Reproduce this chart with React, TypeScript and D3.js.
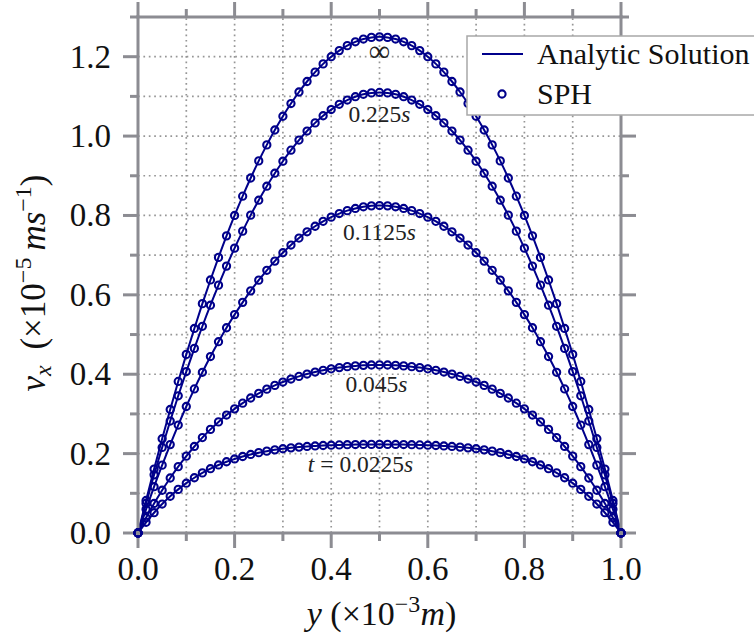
import React from 'react';
import * as d3 from 'd3';

// y positions (×10^-3 m) of the particles / sample points
const positions = [0, 0.0167, 0.0333, 0.05, 0.0667, 0.0833, 0.1, 0.1167, 0.1333, 0.15, 0.1667, 0.1833, 0.2, 0.2167, 0.2333, 0.25, 0.2667, 0.2833, 0.3, 0.3167, 0.3333, 0.35, 0.3667, 0.3833, 0.4, 0.4167, 0.4333, 0.45, 0.4667, 0.4833, 0.5, 0.5167, 0.5333, 0.55, 0.5667, 0.5833, 0.6, 0.6167, 0.6333, 0.65, 0.6667, 0.6833, 0.7, 0.7167, 0.7333, 0.75, 0.7667, 0.7833, 0.8, 0.8167, 0.8333, 0.85, 0.8667, 0.8833, 0.9, 0.9167, 0.9333, 0.95, 0.9667, 0.9833, 1];

// velocity profiles (×10^-5 m/s)
const vInf = [0, 0.0819, 0.1611, 0.2375, 0.3111, 0.3819, 0.45, 0.5153, 0.5778, 0.6375, 0.6944, 0.7486, 0.8, 0.8486, 0.8944, 0.9375, 0.9778, 1.0153, 1.05, 1.0819, 1.1111, 1.1375, 1.1611, 1.1819, 1.2, 1.2153, 1.2278, 1.2375, 1.2444, 1.2486, 1.25, 1.2486, 1.2444, 1.2375, 1.2278, 1.2153, 1.2, 1.1819, 1.1611, 1.1375, 1.1111, 1.0819, 1.05, 1.0153, 0.9778, 0.9375, 0.8944, 0.8486, 0.8, 0.7486, 0.6944, 0.6375, 0.5778, 0.5153, 0.45, 0.3819, 0.3111, 0.2375, 0.1611, 0.0819, 0];
const v0225 = [0, 0.0746, 0.1465, 0.2156, 0.282, 0.3457, 0.4067, 0.4651, 0.5208, 0.5739, 0.6244, 0.6724, 0.7177, 0.7605, 0.8008, 0.8385, 0.8737, 0.9065, 0.9367, 0.9645, 0.9899, 1.0127, 1.0332, 1.0512, 1.0668, 1.08, 1.0908, 1.0992, 1.1052, 1.1088, 1.11, 1.1088, 1.1052, 1.0992, 1.0908, 1.08, 1.0668, 1.0512, 1.0332, 1.0127, 0.9899, 0.9645, 0.9367, 0.9065, 0.8737, 0.8385, 0.8008, 0.7605, 0.7177, 0.6724, 0.6244, 0.5739, 0.5208, 0.4651, 0.4067, 0.3457, 0.282, 0.2156, 0.1465, 0.0746, 0];
const v01125 = [0, 0.0597, 0.1167, 0.171, 0.2227, 0.2719, 0.3187, 0.363, 0.4049, 0.4446, 0.4819, 0.5171, 0.5502, 0.5811, 0.6101, 0.637, 0.6619, 0.685, 0.7062, 0.7255, 0.743, 0.7588, 0.7728, 0.7852, 0.7958, 0.8048, 0.8121, 0.8177, 0.8218, 0.8242, 0.825, 0.8242, 0.8218, 0.8177, 0.8121, 0.8048, 0.7958, 0.7852, 0.7728, 0.7588, 0.743, 0.7255, 0.7062, 0.685, 0.6619, 0.637, 0.6101, 0.5811, 0.5502, 0.5171, 0.4819, 0.4446, 0.4049, 0.363, 0.3187, 0.2719, 0.2227, 0.171, 0.1167, 0.0597, 0];
const v0045 = [0, 0.0385, 0.0744, 0.1077, 0.1386, 0.1672, 0.1936, 0.218, 0.2404, 0.261, 0.2799, 0.2971, 0.3128, 0.3271, 0.3401, 0.3518, 0.3624, 0.3719, 0.3803, 0.3879, 0.3945, 0.4004, 0.4055, 0.4099, 0.4136, 0.4167, 0.4191, 0.421, 0.4224, 0.4232, 0.4235, 0.4232, 0.4224, 0.421, 0.4191, 0.4167, 0.4136, 0.4099, 0.4055, 0.4004, 0.3945, 0.3879, 0.3803, 0.3719, 0.3624, 0.3518, 0.3401, 0.3271, 0.3128, 0.2971, 0.2799, 0.261, 0.2404, 0.218, 0.1936, 0.1672, 0.1386, 0.1077, 0.0744, 0.0385, 0];
const v00225 = [0, 0.0269, 0.0511, 0.0729, 0.0925, 0.1099, 0.1255, 0.1392, 0.1514, 0.162, 0.1714, 0.1795, 0.1866, 0.1927, 0.1979, 0.2024, 0.2062, 0.2095, 0.2122, 0.2145, 0.2164, 0.218, 0.2193, 0.2204, 0.2212, 0.2219, 0.2224, 0.2228, 0.2231, 0.2232, 0.2233, 0.2232, 0.2231, 0.2228, 0.2224, 0.2219, 0.2212, 0.2204, 0.2193, 0.218, 0.2164, 0.2145, 0.2122, 0.2095, 0.2062, 0.2024, 0.1979, 0.1927, 0.1866, 0.1795, 0.1714, 0.162, 0.1514, 0.1392, 0.1255, 0.1099, 0.0925, 0.0729, 0.0511, 0.0269, 0];

const timeLabels = ['\u221e', '0.225', '0.1125', '0.045', '0.0225'];
const xMajorTicks = [0, 0.2, 0.4, 0.6, 0.8, 1.0];
const xMinorTicks = [0.1, 0.3, 0.5, 0.7, 0.9];
const yMajorTicks = [0, 0.2, 0.4, 0.6, 0.8, 1.0, 1.2];
const yMinorTicks = [0.1, 0.3, 0.5, 0.7, 0.9, 1.1, 1.3];
const xTickLabels = ['0.0', '0.2', '0.4', '0.6', '0.8', '1.0'];
const yTickLabels = ['0.0', '0.2', '0.4', '0.6', '0.8', '1.0', '1.2'];
const legendLabels = ['Analytic Solution', 'SPH'];

const BLUE = '#00008b';
const GRAY = '#8c8c92';
const FONT = '"Liberation Serif", "Times New Roman", serif';

export default function App() {
  const x = d3.scaleLinear().domain([0, 1]).range([138, 621]);
  const y = d3.scaleLinear().domain([0, 1.3]).range([533, 17]);
  const series = [vInf, v0225, v01125, v0045, v00225];
  const line = d3
    .line<number>()
    .x((_, i) => x(positions[i]))
    .y((d) => y(d))
    .curve(d3.curveMonotoneX);

  const allX = [...xMajorTicks, ...xMinorTicks];
  const allY = [...yMajorTicks, ...yMinorTicks];
  const [x0, x1] = x.range();
  const [y0, y1] = y.range();
  const MAJ = 15;
  const MIN = 8;

  const peaks = series.map((s) => d3.max(s) as number);
  const annOffsets = [24, 30, 34, 27, 28];
  const annDx = [0, 0, 0, -3, -19];

  return (
    <svg
      width={754}
      height={639}
      style={{ position: 'absolute', left: 0, top: 0, background: '#fff' }}
      fontFamily={FONT}
    >
      <rect x={0} y={0} width={754} height={639} fill="#fff" />
      {/* grid */}
      <g stroke="#969696" strokeWidth={1.7} strokeDasharray="1.7 3.7">
        {allX.filter((t) => t > 0 && t < 1).map((t) => (
          <line key={'gx' + t} x1={x(t)} x2={x(t)} y1={y0} y2={y1} />
        ))}
        {allY.filter((t) => t > 0 && t < 1.3).map((t) => (
          <line key={'gy' + t} x1={x0} x2={x1} y1={y(t)} y2={y(t)} />
        ))}
      </g>

      {/* curves */}
      <g fill="none" stroke={BLUE} strokeWidth={2}>
        {series.map((s, i) => (
          <path key={'l' + i} d={line(s) as string} />
        ))}
      </g>

      {/* spines */}
      <g stroke={GRAY} strokeWidth={3} strokeLinecap="butt">
        <line x1={x0} x2={x0} y1={y0 + 1.5} y2={y1 - 1.5} />
        <line x1={x1} x2={x1} y1={y0 + 1.5} y2={y1 - 1.5} />
        <line x1={x0 - 1.5} x2={x1 + 1.5} y1={y0} y2={y0} />
        <line x1={x0 - 1.5} x2={x1 + 1.5} y1={y1} y2={y1} />
        {xMajorTicks.map((t) => (
          <g key={'xM' + t}>
            <line x1={x(t)} x2={x(t)} y1={y0} y2={y0 + MAJ} />
            <line x1={x(t)} x2={x(t)} y1={y1} y2={y1 - MAJ} />
          </g>
        ))}
        {xMinorTicks.map((t) => (
          <g key={'xm' + t}>
            <line x1={x(t)} x2={x(t)} y1={y0} y2={y0 + MIN} />
            <line x1={x(t)} x2={x(t)} y1={y1} y2={y1 - MIN} />
          </g>
        ))}
        {yMajorTicks.map((t) => (
          <g key={'yM' + t}>
            <line x1={x0} x2={x0 - MAJ} y1={y(t)} y2={y(t)} />
            <line x1={x1} x2={x1 + MAJ} y1={y(t)} y2={y(t)} />
          </g>
        ))}
        {yMinorTicks.map((t) => (
          <g key={'ym' + t}>
            <line x1={x0} x2={x0 - MIN} y1={y(t)} y2={y(t)} />
            <line x1={x1} x2={x1 + MIN} y1={y(t)} y2={y(t)} />
          </g>
        ))}
      </g>

      {/* SPH markers */}
      <g fill="none" stroke={BLUE} strokeWidth={2.1}>
        {series.map((s, i) =>
          s.map((v, j) => (
            <circle key={'c' + i + '-' + j} cx={x(positions[j])} cy={y(v)} r={3.6} />
          ))
        )}
      </g>

      {/* tick labels */}
      <g fontSize={33} fill="#111">
        {xMajorTicks.map((t, i) => (
          <text key={'xl' + t} x={x(t)} y={y0 + 47} textAnchor="middle">
            {xTickLabels[i]}
          </text>
        ))}
        {yMajorTicks.map((t, i) => (
          <text key={'yl' + t} x={x0 - 27} y={y(t) + 11} textAnchor="end">
            {yTickLabels[i]}
          </text>
        ))}
      </g>

      {/* annotations */}
      <g fill="#222" fontSize={23.5} textAnchor="middle">
        {timeLabels.map((lab, i) => {
          const tx = x(0.5) + annDx[i];
          const ty = y(peaks[i]) + annOffsets[i];
          if (i === 0)
            return (
              <text key={'a' + i} x={tx} y={ty} fontSize={30}>
                {lab}
              </text>
            );
          if (i === 4)
            return (
              <text key={'a' + i} x={tx} y={ty}>
                <tspan fontStyle="italic">t</tspan>
                <tspan> = {lab}</tspan>
                <tspan fontStyle="italic">s</tspan>
              </text>
            );
          return (
            <text key={'a' + i} x={tx} y={ty}>
              <tspan>{lab}</tspan>
              <tspan fontStyle="italic">s</tspan>
            </text>
          );
        })}
      </g>

      {/* axis labels */}
      <text x={(x0 + x1) / 2 + 2} y={625} fontSize={34} textAnchor="middle" fill="#111">
        <tspan fontStyle="italic">y</tspan>
        <tspan> (×10</tspan>
        <tspan fontSize={24} dy={-13}>−3</tspan>
        <tspan fontStyle="italic" dy={13}>m</tspan>
        <tspan>)</tspan>
      </text>
      <text
        transform={`translate(45, ${(y0 + y1) / 2 + 8}) rotate(-90)`}
        fontSize={35}
        textAnchor="middle"
        fill="#111"
      >
        <tspan fontStyle="italic">v</tspan>
        <tspan fontStyle="italic" fontSize={24} dy={6}>x</tspan>
        <tspan dy={-6}>{'\u2009 (×10'}</tspan>
        <tspan fontSize={24} dy={-14}>−5</tspan>
        <tspan fontStyle="italic" dy={14}>{'\u2009ms'}</tspan>
        <tspan fontSize={24} dy={-14}>−1</tspan>
        <tspan dy={14}>)</tspan>
      </text>

      {/* legend */}
      <g>
        <rect x={467} y={36} width={310} height={79} fill="#fff" stroke="#a8a8a8" strokeWidth={1.5} />
        <line x1={482} x2={523} y1={54} y2={54} stroke={BLUE} strokeWidth={2} />
        <circle cx={502} cy={94} r={3.6} fill="none" stroke={BLUE} strokeWidth={2.1} />
        <text x={537} y={64} fontSize={30} fill="#111">{legendLabels[0]}</text>
        <text x={537} y={104} fontSize={30} fill="#111">{legendLabels[1]}</text>
      </g>
    </svg>
  );
}
